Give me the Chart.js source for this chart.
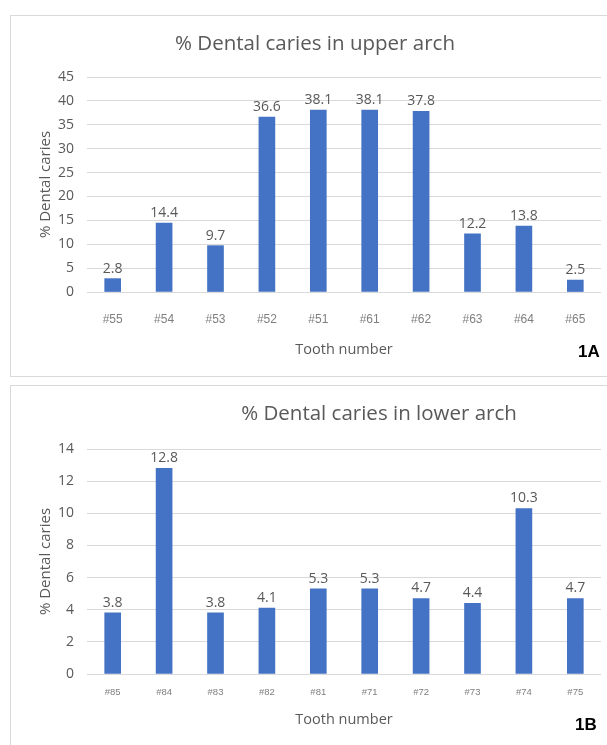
<!DOCTYPE html>
<html>
<head>
<meta charset="utf-8">
<script src="https://cdn.jsdelivr.net/npm/chart.js@4.4.0/dist/chart.umd.min.js"></script>
<style>
  body { margin: 0; background: #fff; width: 607px; height: 745px; overflow: hidden; position: relative; }
  .panel { position: absolute; left: 10px; width: 600px; border: 1px solid #d9d9d9; background: #fff; }
  .tag { position: absolute; font: bold 17px "Liberation Sans", Arial, sans-serif; color: #000; }
</style>
</head>
<body>
<div class="panel" style="top:15px;height:360px"><canvas id="c1"></canvas></div>
<div class="tag" style="left:578px;top:342px">1A</div>
<div class="panel" style="top:385px;height:372px"><canvas id="c2"></canvas></div>
<div class="tag" style="left:575px;top:715px">1B</div>
<script>
// upper arch
const upperTeeth = ['#55', '#54', '#53', '#52', '#51', '#61', '#62', '#63', '#64', '#65'];
const upperCaries = [2.8, 14.4, 9.7, 36.6, 38.1, 38.1, 37.8, 12.2, 13.8, 2.5];
// lower arch
const lowerTeeth = ['#85', '#84', '#83', '#82', '#81', '#71', '#72', '#73', '#74', '#75'];
const lowerCaries = [3.8, 12.8, 3.8, 4.1, 5.3, 5.3, 4.7, 4.4, 10.3, 4.7];

const gray = '#595959';
const blue = '#4472C4';
const fontFam = '"Open Sans", "Noto Sans", sans-serif';

// value above each bar + the chart title (placed by hand, the excel one sits off centre)
const barLabels = {
  id: 'barLabels',
  afterDatasetsDraw(chart, args, opts) {
    const ctx = chart.ctx;
    ctx.save();
    ctx.fillStyle = gray;
    ctx.font = '14px ' + fontFam;
    ctx.textAlign = 'center';
    ctx.textBaseline = 'bottom';
    chart.getDatasetMeta(0).data.forEach((bar, i) => {
      ctx.fillText(chart.data.datasets[0].data[i].toFixed(1), bar.x, bar.y - 3);
    });
    ctx.font = '20.5px ' + fontFam;
    ctx.textBaseline = 'alphabetic';
    ctx.fillText(opts.text, opts.x, opts.y);
    ctx.restore();
  }
};

function makeChart(id, h, labels, values, title, titleX, yMax, step, xFont, xPad, xTitleGap, top) {
  const cv = document.getElementById(id);
  const w = 600;
  cv.width = w; cv.height = h;
  cv.style.width = w + 'px'; cv.style.height = h + 'px';
  return new Chart(cv, {
    type: 'bar',
    data: {
      labels: labels,
      datasets: [{ data: values, backgroundColor: blue, barThickness: 16 }]
    },
    options: {
      responsive: false,
      animation: false,
      layout: { padding: { top: top, left: 20, right: 10, bottom: 0 } },
      plugins: {
        legend: { display: false },
        tooltip: { enabled: false },
        title: { display: false },
        barLabels: { text: title, x: titleX, y: 34 }
      },
      scales: {
        x: {
          grid: { display: false, drawTicks: false },
          border: { display: false },
          ticks: { color: '#7f7f7f', font: { family: '"Liberation Sans", Arial, sans-serif', size: xFont }, padding: xPad },
          title: { display: true, text: 'Tooth number', color: gray, font: { family: fontFam, size: 14.5 }, padding: { top: 0, bottom: xTitleGap } },
          afterFit: s => { s.height = 84; }
        },
        y: {
          min: 0, max: yMax,
          grid: { color: '#d9d9d9', drawTicks: false },
          border: { display: false },
          ticks: { stepSize: step, color: gray, font: { family: fontFam, size: 14 }, padding: 13 },
          title: { display: true, text: '% Dental caries', color: gray, font: { family: fontFam, size: 15 }, padding: { top: 6, bottom: 0 } },
          afterFit: s => { s.width = 56; }
        }
      }
    },
    plugins: [barLabels]
  });
}

makeChart('c1', 360, upperTeeth, upperCaries, '% Dental caries in upper arch', 304, 45, 5, 12, 20, 17, 61);
makeChart('c2', 372, lowerTeeth, lowerCaries, '% Dental caries in lower arch', 368, 14, 2, 9.5, 13, 29, 63);
</script>
</body>
</html>
